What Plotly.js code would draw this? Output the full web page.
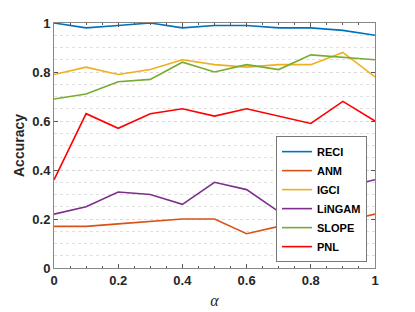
<!DOCTYPE html>
<html><head><meta charset="utf-8">
<script src="https://cdn.plot.ly/plotly-3.0.1.min.js"></script>
<style>html,body{margin:0;padding:0;background:#fff}</style>
</head><body><div id="c" style="width:415px;height:312px"></div>
<script>
const alpha = [0,0.1,0.2,0.3,0.4,0.5,0.6,0.7,0.8,0.9,1.0];
const RECI   = [1.00,0.98,0.99,1.00,0.98,0.99,0.99,0.98,0.98,0.97,0.95];
const ANM    = [0.17,0.17,0.18,0.19,0.20,0.20,0.14,0.17,0.14,0.19,0.22];
const IGCI   = [0.79,0.82,0.79,0.81,0.85,0.83,0.82,0.83,0.83,0.88,0.78];
const LiNGAM = [0.22,0.25,0.31,0.30,0.26,0.35,0.32,0.23,0.29,0.33,0.36];
const SLOPE  = [0.69,0.71,0.76,0.77,0.84,0.80,0.83,0.81,0.87,0.86,0.85];
const PNL    = [0.36,0.63,0.57,0.63,0.65,0.62,0.65,0.62,0.59,0.68,0.60];
const names = ['RECI','ANM','IGCI','LiNGAM','SLOPE','PNL'];
const series = [RECI,ANM,IGCI,LiNGAM,SLOPE,PNL];
const colors = ['#0072BD','#D95319','#EDB120','#7E2F8E','#77AC30','#FF0000'];
const tickVals = [0,0.2,0.4,0.6,0.8,1];
const tickText = ['0','0.2','0.4','0.6','0.8','1'];

const traces = series.map((s,i)=>({x:alpha,y:s,name:names[i],type:'scatter',mode:'lines',
  line:{color:colors[i],width:1.6}}));

const axBase = {range:[0,1],tickvals:tickVals,ticktext:tickText,ticks:'inside',ticklen:4,
  tickcolor:'#555',showline:true,linecolor:'#888',linewidth:1,mirror:'allticks',zeroline:false,
  tickfont:{family:'Liberation Sans, Arial, sans-serif',size:13,color:'#262626',weight:'bold'}};

const layout = {
  width:415,height:312,margin:{l:54,r:40,t:23,b:44},
  paper_bgcolor:'#fff',plot_bgcolor:'#fff',showlegend:true,
  font:{family:'Liberation Sans, Arial, sans-serif',color:'#262626'},
  xaxis:Object.assign({},axBase,{showgrid:false,
    minor:{dtick:0.05,ticks:'inside',ticklen:2,tickcolor:'#555',showgrid:false},
    title:{text:'α',font:{family:'Liberation Serif, serif',size:16,style:'italic',color:'#262626'},standoff:8}}),
  yaxis:Object.assign({},axBase,{showgrid:true,gridcolor:'#dadada',griddash:'dot',gridwidth:1,
    minor:{dtick:0.05,showgrid:true,gridcolor:'#e0e0e0',griddash:'dot',gridwidth:1},
    title:{text:'Accuracy',font:{family:'Liberation Sans, Arial, sans-serif',size:14,color:'#262626',weight:'bold'},standoff:4}}),
  legend:{x:0.975,y:0.024,xanchor:'right',yanchor:'bottom',bgcolor:'#fff',bordercolor:'#777',borderwidth:1,
    font:{family:'Liberation Sans, Arial, sans-serif',size:11,color:'#000',weight:'bold'},
    tracegroupgap:0,itemwidth:30}
};
Plotly.newPlot('c',traces,layout,{displayModeBar:false,staticPlot:true});
</script></body></html>
